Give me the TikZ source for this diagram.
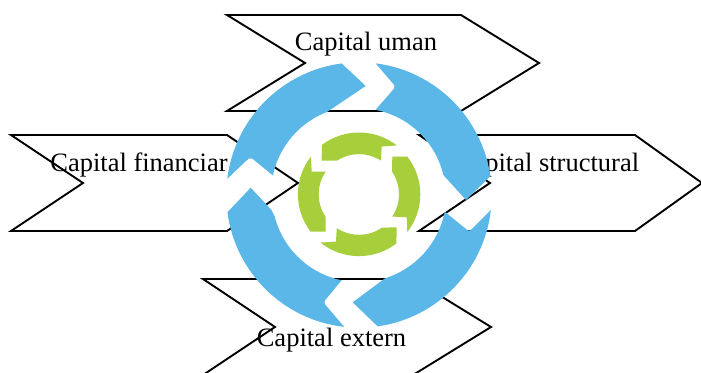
\documentclass[tikz,border=0pt]{standalone}
\usepackage{fontspec}
\setmainfont{Liberation Serif}
\definecolor{ringblue}{HTML}{5AB7E8}
\definecolor{ringgreen}{HTML}{A6CF3B}
\tikzset{
  chevronshape/.style={draw=black,line width=1.9pt,line join=miter,fill=none},
  label/.style={anchor=base,inner sep=0pt,font=\fontsize{26.5pt}{30pt}\selectfont,text=black},
  bluepart/.style={fill=ringblue,draw=none},
  greenpart/.style={fill=ringgreen,draw=none}
}
\begin{document}
\begin{tikzpicture}[x=1pt,y=1pt]
\useasboundingbox (0,0) rectangle (701,372);
\clip (0,0) rectangle (701,372);
\fill[white] (0,0) rectangle (701,372);
\begin{scope}[shift={(0,372)},y=-1pt]
  \draw[chevronshape] (227,15) -- (461,15) -- (539,63) -- (461,111) -- (227,111) -- (305,63) -- cycle;
  \draw[chevronshape] (11,135) -- (227,135) -- (298,183) -- (227,231) -- (11,231) -- (83,183) -- cycle;
  \draw[chevronshape] (419,135) -- (635,135) -- (702,183) -- (635,231) -- (419,231) -- (490,183) -- cycle;
  \draw[chevronshape] (203,279) -- (413,279) -- (491,327) -- (413,375) -- (203,375) -- (275,327) -- cycle;
  \node[label] (uman) at (366,51) {Capital uman};
  \node[label] (fin) at (139,172) {Capital financiar};
  \node[label] (str) at (547.5,172) {Capital structural};
  \node[label] (ext) at (331.5,347) {Capital extern};
\end{scope}
\begin{scope}[shift={(359,177)}]
  \fill[bluepart] (173:132.7pt) arc[start angle=173,end angle=97.5,radius=132.7pt]
    -- (6.7,109) -- (111:89pt) arc[start angle=111,end angle=168,radius=87.5pt]
    -- (-105,35) [rounded corners=2pt] -- (-108.3,37.7) -- (-112,35) [sharp corners] -- cycle;
  \fill[bluepart] (82.8:132.7pt) arc[start angle=82.8,end angle=8.2,radius=132.7pt]
    -- (107,-5) -- (13.3:86.7pt) arc[start angle=13.3,end angle=79,radius=86.7pt]
    [rounded corners=3pt] -- (36.7,108.3) [sharp corners] -- cycle;
  \fill[bluepart] (-6.5:132.7pt) arc[start angle=-6.5,end angle=-81.9,radius=132.7pt]
    -- (-6.3,-107.3) -- (-72.7:87.3pt) arc[start angle=-72.7,end angle=-11,radius=87.3pt]
    [rounded corners=2pt] -- (110.3,-36.7) [sharp corners] -- cycle;
  \fill[bluepart] (187.5:132.7pt) arc[start angle=187.5,end angle=263.6,radius=132.7pt]
    [rounded corners=3pt] -- (-35.7,-107.3) [sharp corners] -- (258.5:87pt)
    arc[start angle=258.5,end angle=194.5,radius=87pt] -- (-87.5,-15) -- (-108.3,7.3) -- cycle;
\end{scope}
\begin{scope}[shift={(359,177.7)}]
  \fill[greenpart] (-37.3,33.7) -- (127:61.8pt) arc[start angle=127,end angle=52.3,radius=61.8pt]
    -- (22.7,47.7) -- (56.9:40.2pt) arc[start angle=56.9,end angle=122.8,radius=40.2pt] -- cycle;
  \fill[greenpart] (33.3,37.7) -- (38:61.3pt) arc[start angle=38,end angle=-38,radius=61.3pt]
    -- (47.7,-23) -- (-33.8:40pt) arc[start angle=-33.8,end angle=34.3,radius=40pt] -- cycle;
  \fill[greenpart] (37.7,-33) -- (-52.8:61.8pt) arc[start angle=-52.8,end angle=-128.6,radius=61.8pt]
    -- (-23,-47.3) -- (236.7:40.5pt) arc[start angle=236.7,end angle=304.5,radius=40.5pt] -- cycle;
  \fill[greenpart] (-33.3,-37.3) -- (217.7:61.1pt) arc[start angle=217.7,end angle=142,radius=61.1pt]
    -- (-47.3,22.7) -- (145.7:40.3pt) arc[start angle=145.7,end angle=213.8,radius=40.3pt] -- cycle;
\end{scope}
\end{tikzpicture}
\end{document}
